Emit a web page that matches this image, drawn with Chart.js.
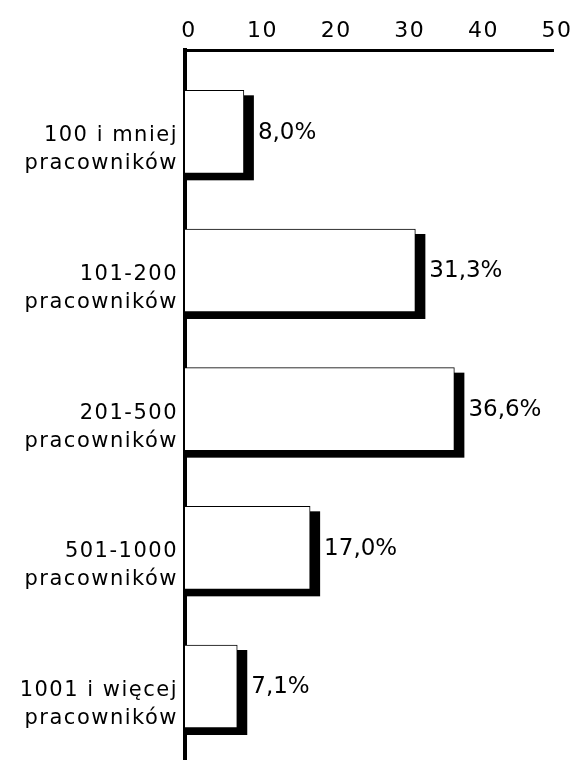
<!DOCTYPE html>
<html>
<head>
<meta charset="utf-8">
<script src="https://cdn.jsdelivr.net/npm/chart.js@4"></script>
<style>
html,body{margin:0;padding:0;background:#fff;}
#wrap{width:578px;height:760px;}
</style>
</head>
<body>
<div id="wrap"><canvas id="c"></canvas></div>
<script>
const categories = [
  ['100 i mniej', 'pracowników'],
  ['101-200', 'pracowników'],
  ['201-500', 'pracowników'],
  ['501-1000', 'pracowników'],
  ['1001 i więcej', 'pracowników']
];
const shares = [8.0, 31.3, 36.6, 17.0, 7.1];
const xTicks = [0, 10, 20, 30, 40, 50];

const FONT = "'DejaVu Sans', sans-serif";

// wider letters, closer to the geometric face of the original
const spacing = {
  id: 'spacing',
  beforeLayout(chart) { chart.ctx.letterSpacing = '1.5px'; },
  beforeDraw(chart) { chart.ctx.letterSpacing = '1.5px'; }
};

// black drop shadow behind each bar (right + bottom)
const barShadow = {
  id: 'barShadow',
  beforeDatasetsDraw(chart) {
    const ctx = chart.ctx;
    const meta = chart.getDatasetMeta(0);
    ctx.save();
    ctx.fillStyle = '#000';
    meta.data.forEach(bar => {
      const h = bar.height;
      const top = bar.y - h / 2 + 5;
      const bottom = bar.y + h / 2 + 7;
      ctx.fillRect(bar.base, top, bar.x + 10 - bar.base, bottom - top);
    });
    ctx.restore();
  }
};

const valueLabels = {
  id: 'valueLabels',
  afterDatasetsDraw(chart) {
    const ctx = chart.ctx;
    const meta = chart.getDatasetMeta(0);
    ctx.save();
    ctx.letterSpacing = '0px';
    ctx.font = '23px ' + FONT;
    ctx.fillStyle = '#000';
    ctx.textBaseline = 'middle';
    ctx.textAlign = 'left';
    meta.data.forEach((bar, i) => {
      const txt = shares[i].toFixed(1).replace('.', ',') + '%';
      ctx.fillText(txt, bar.x + 14, bar.y + 1);
    });
    ctx.restore();
  }
};

new Chart(document.getElementById('c'), {
  type: 'bar',
  data: {
    datasets: [{
      data: shares.map((v, i) => ({x: v, y: i})),
      backgroundColor: '#fff',
      borderColor: '#000',
      borderWidth: 1,
      barThickness: 83
    }]
  },
  options: {
    indexAxis: 'y',
    responsive: true,
    maintainAspectRatio: false,
    animation: false,
    layout: {padding: {top: 0, right: 25, bottom: 0, left: 0}},
    scales: {
      x: {
        type: 'linear',
        position: 'top',
        min: 0,
        max: 50,
        afterBuildTicks: s => { s.ticks = xTicks.map(v => ({value: v})); },
        afterFit: s => { s.height = 50; s.paddingLeft = 0; s.paddingRight = 0; },
        grid: {display: false, drawTicks: false},
        border: {display: true, color: '#000', width: 3},
        ticks: {color: '#000', padding: 6, labelOffset: 4, font: {family: FONT, size: 22}}
      },
      y: {
        type: 'linear',
        reverse: true,
        offset: false,
        min: -0.59,
        max: 4.53,
        afterBuildTicks: s => { s.ticks = categories.map((c, i) => ({value: i})); },
        afterFit: s => { s.width = 185; s.paddingTop = 0; s.paddingBottom = 0; },
        grid: {display: false, drawTicks: false},
        border: {display: true, color: '#000', width: 4},
        ticks: {
          color: '#000',
          padding: 7,
          labelOffset: 18,
          font: {family: FONT, size: 21, lineHeight: '28px'},
          callback: v => categories[v]
        }
      }
    },
    plugins: {
      legend: {display: false},
      tooltip: {enabled: false}
    }
  },
  plugins: [spacing, barShadow, valueLabels]
});
</script>
</body>
</html>
